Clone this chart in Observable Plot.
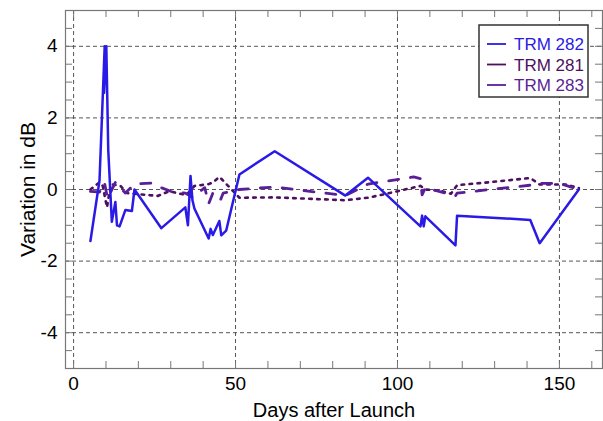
<!DOCTYPE html>
<html>
<head>
<meta charset="utf-8">
<script src="https://cdn.jsdelivr.net/npm/d3@7"></script>
<script src="https://cdn.jsdelivr.net/npm/@observablehq/plot@0.6"></script>
<style>
  html, body { margin: 0; padding: 0; background: white; }
</style>
</head>
<body>
<div id="chart"></div>
<script>
// ---- data ----
const seriesNames = ["TRM 282", "TRM 281", "TRM 283"];
const seriesColors = ["#2a1ae6", "#4e0f60", "#5a1f96"];

const days282 = [5.2, 8.0, 9.6, 9.4, 10.1, 10.7, 11.8, 12.9, 13.4, 14.2, 16.0, 18.0, 18.8, 27.1, 34.5, 35.3, 36.1, 36.7, 37.3, 41.7, 42.3, 43.0, 45.0, 45.6, 47.1, 51.2, 62.1, 83.9, 90.9, 107.1, 107.6, 108.1, 108.6, 117.9, 118.4, 141.0, 143.9, 156.0];
const vals282 = [-1.44, 0.25, 4.0, 2.7, 4.0, 1.1, -0.9, -0.35, -1.0, -1.03, -0.57, -0.6, 0.0, -1.08, -0.5, -1.0, 0.38, -0.3, -0.53, -1.37, -1.1, -1.27, -0.88, -1.28, -1.15, 0.42, 1.07, -0.17, 0.33, -1.03, -0.73, -1.03, -0.75, -1.56, -0.73, -0.85, -1.5, 0.0];

const days281 = [5.2, 8.0, 9.0, 10.3, 11.5, 14.5, 16.5, 26.0, 29.5, 34.5, 36.0, 37.3, 41.7, 43.0, 45.0, 45.6, 51.2, 62.1, 83.9, 90.9, 97.0, 107.1, 108.6, 113.0, 116.5, 118.4, 128.0, 141.0, 143.9, 152.0, 156.0];
const vals281 = [0.0, 0.2, 0.1, -0.5, 0.15, 0.1, -0.1, -0.18, -0.05, -0.15, -0.05, 0.1, 0.15, 0.2, 0.35, 0.3, -0.23, -0.22, -0.3, -0.23, -0.11, 0.1, 0.0, -0.03, -0.12, 0.12, 0.2, 0.32, 0.14, 0.14, 0.04];

const days283 = [5.2, 8.0, 9.5, 10.5, 12.9, 16.0, 18.8, 24.0, 27.1, 30.0, 34.5, 36.7, 40.5, 41.7, 43.0, 45.3, 46.2, 51.2, 62.1, 83.9, 90.9, 105.0, 107.1, 107.6, 108.6, 117.9, 118.4, 141.0, 143.9, 150.0, 156.0];
const vals283 = [-0.05, -0.07, 0.2, -0.25, 0.2, -0.1, 0.15, 0.18, 0.05, -0.05, -0.1, -0.22, 0.05, -0.4, -0.1, -0.3, -0.1, 0.0, 0.07, -0.17, 0.15, 0.35, 0.3, -0.15, 0.05, -0.18, -0.1, 0.12, 0.17, 0.17, 0.0];

const xTickValues = [0, 50, 100, 150];
const xTickLabels = ["0", "50", "100", "150"];
const yTickValues = [-4, -2, 0, 2, 4];
const yTickLabels = ["-4", "-2", "0", "2", "4"];
const xMinorTicks = [0, 10, 20, 30, 40, 50, 60, 70, 80, 90, 100, 110, 120, 130, 140, 150, 160];
const yMinorTicks = [-4.5, -4, -3.5, -3, -2.5, -2, -1.5, -1, -0.5, 0, 0.5, 1, 1.5, 2, 2.5, 3, 3.5, 4, 4.5];
const xTitle = "Days after Launch";
const yTitle = "Variation in dB";

// ---- build tables ----
const toRows = (days, vals) => days.map((d, i) => ({day: d, value: vals[i]}));
const s282 = toRows(days282, vals282);
const s281 = toRows(days281, vals281);
const s283 = toRows(days283, vals283);

const W = 603, H = 421, mL = 65, mR = 1, mT = 10, mB = 53;
const plotW = W - mL - mR, plotH = H - mT - mB;
const tickLen = 7;
const font = "'Liberation Sans', Arial, Helvetica, sans-serif";
const gridStyle = {stroke: "#555", strokeWidth: 1, strokeDasharray: "4,3"};

const chart = Plot.plot({
  width: W, height: H,
  marginLeft: mL, marginRight: mR, marginTop: mT, marginBottom: mB,
  style: {fontFamily: font, fontSize: "19px", color: "black", background: "white"},
  x: {domain: [-2.5, 163.3], ticks: xTickValues, tickSize: 0, tickPadding: 8,
      tickFormat: d => xTickLabels[xTickValues.indexOf(d)], label: null},
  y: {domain: [-5, 5], ticks: yTickValues, tickSize: 0, tickPadding: 8,
      tickFormat: d => yTickLabels[yTickValues.indexOf(d)], label: null},
  marks: [
    Plot.ruleX(xTickValues, {x: d => d, ...gridStyle}),
    Plot.ruleY(yTickValues, {y: d => d, ...gridStyle}),
    Plot.tickX(xMinorTicks, {x: d => d, stroke: "#777", strokeWidth: 1, insetTop: plotH - tickLen}),
    Plot.tickX(xMinorTicks, {x: d => d, stroke: "#777", strokeWidth: 1, insetBottom: plotH - tickLen}),
    Plot.tickY(yMinorTicks, {y: d => d, stroke: "#777", strokeWidth: 1, insetRight: plotW - tickLen}),
    Plot.tickY(yMinorTicks, {y: d => d, stroke: "#777", strokeWidth: 1, insetLeft: plotW - tickLen}),
    Plot.line(s281, {x: "day", y: "value", stroke: seriesColors[1], strokeWidth: 2.6, strokeDasharray: "2.6,5.4"}),
    Plot.line(s283, {x: "day", y: "value", stroke: seriesColors[2], strokeWidth: 2.8, strokeDasharray: "10,12"}),
    Plot.line(s282, {x: "day", y: "value", stroke: seriesColors[0], strokeWidth: 2.5}),
    Plot.frame({stroke: "#777", strokeWidth: 1.2}),
    Plot.text([xTitle], {frameAnchor: "bottom", dy: 42, lineAnchor: "middle", textAnchor: "middle", fontSize: 20, fill: "black"}),
    Plot.text([yTitle], {frameAnchor: "left", dx: -37, rotate: -90, lineAnchor: "middle", textAnchor: "middle", fontSize: 21, fill: "black"})
  ]
});

document.getElementById("chart").appendChild(chart);

// ---- legend (inside the plot, top right) ----
const svg = d3.select(chart);
const lg = svg.append("g").attr("font-family", font).attr("font-size", 17).attr("text-anchor", "start");
lg.append("rect").attr("x", 479).attr("y", 25).attr("width", 109).attr("height", 72)
  .attr("fill", "white").attr("stroke", "#333").attr("stroke-width", 1.5);
seriesNames.forEach((name, i) => {
  const y = 44 + i * 20.5;
  lg.append("line").attr("x1", 487).attr("x2", 506).attr("y1", y).attr("y2", y)
    .attr("stroke", seriesColors[i]).attr("stroke-width", 1.8);
  lg.append("text").attr("x", 514).attr("y", y).attr("dy", "0.36em")
    .attr("text-anchor", "start").attr("fill", seriesColors[i]).text(name);
});
</script>
</body>
</html>
